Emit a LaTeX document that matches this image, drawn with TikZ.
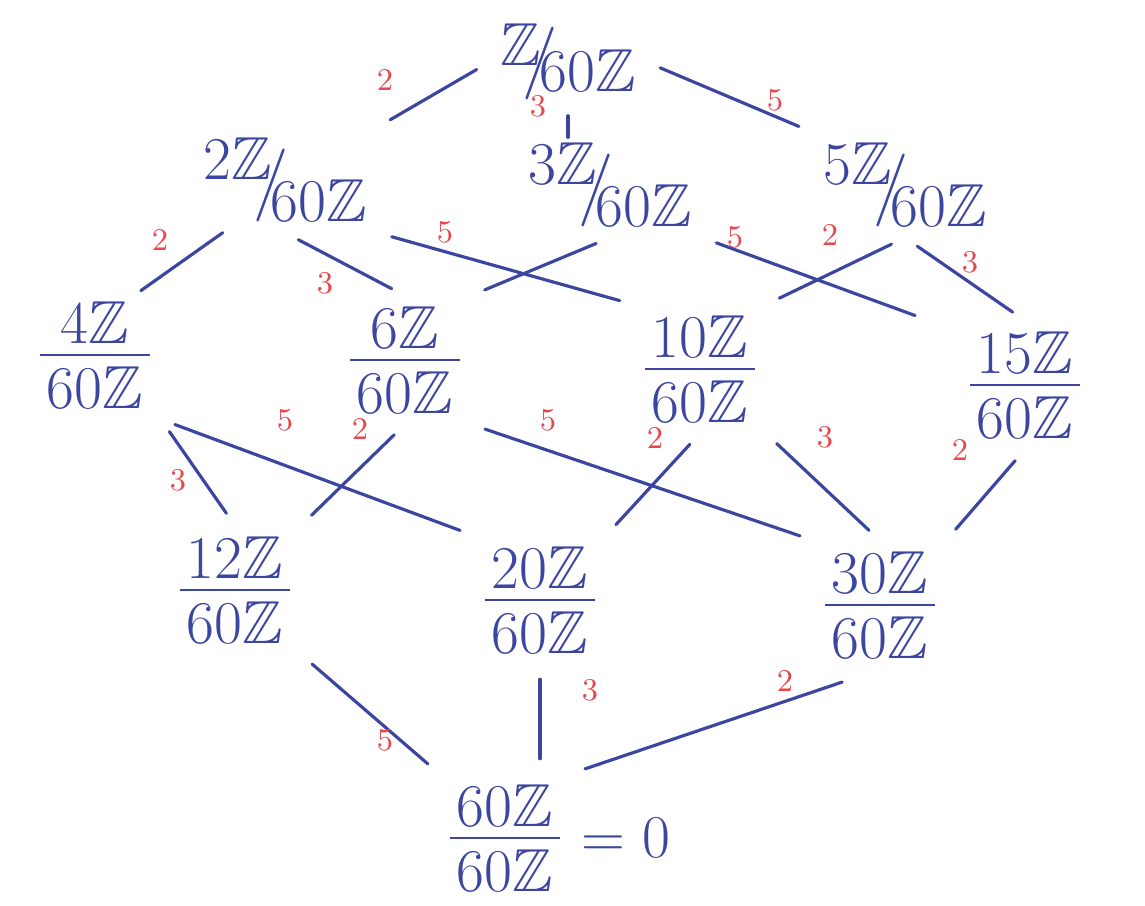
\documentclass[tikz,border=0pt]{standalone}
\usepackage{amsmath,amssymb}
\usepackage{xcolor}
\usepackage{tikz}
\usetikzlibrary{positioning}
\definecolor{ink}{HTML}{3C46A0}
\definecolor{redink}{HTML}{E5484D}
% Z-quotient written with a slash, and stacked over 60Z
\newcommand{\slashq}[2][.8ex]{\raisebox{#1}{$#2$}\kern-.3em$\big/$\kern-.3em\raisebox{-#1}{$60\mathbb{Z}$}}
\newcommand{\stk}[1]{$\vcenter{\offinterlineskip\halign{\hfil\kern2pt##\kern2pt\hfil\cr
  $#1$\cr\noalign{\kern3pt\hrule height .7pt\kern3pt}$60\mathbb{Z}$\cr}}$}

\begin{document}
\begin{tikzpicture}[
  grp/.style={text=ink,font=\LARGE,inner sep=1mm},
  edge/.style={draw=ink,line width=0.9pt,line cap=round,shorten <=1.5mm,shorten >=1.5mm},
  lab/.style={text=redink,font=\small,inner sep=0pt}
]
  \useasboundingbox (0,0) rectangle (11.45,9.06);

  % top
  \node[grp] (top) at (5.68,8.44) {\slashq[.5ex]{\mathbb{Z}}};

  % index 2,3,5
  \node[grp] (n2) at (2.85,7.26) {\slashq{2\mathbb{Z}}};
  \node[grp] (n3) at (6.10,7.21) {\slashq{3\mathbb{Z}}};
  \node[grp] (n5) at (9.05,7.21) {\slashq{5\mathbb{Z}}};

  % index 4,6,10,15
  \node[grp] (n4) at (0.95,5.51) {\stk{4\mathbb{Z}}};
  \node[grp] (n6) at (4.05,5.46) {\stk{6\mathbb{Z}}};
  \node[grp] (n10) at (7.00,5.37) {\stk{10\mathbb{Z}}};
  \node[grp] (n15) at (10.25,5.21) {\stk{15\mathbb{Z}}};

  % index 12,20,30
  \node[grp] (n12) at (2.35,3.16) {\stk{12\mathbb{Z}}};
  \node[grp] (n20) at (5.40,3.06) {\stk{20\mathbb{Z}}};
  \node[grp] (n30) at (8.80,3.01) {\stk{30\mathbb{Z}}};

  % bottom
  \node[grp] (n60) at (5.05,0.68) {\stk{60\mathbb{Z}}};
  \node[grp,right=0mm of n60] (zero) {$=0$};

  \draw[edge] (top.west) -- (n2.north east);
  \draw[edge,shorten <=0mm,shorten >=0mm] ([yshift=-.5mm]top.south)
    -- ([yshift=-.5mm]top.south |- n3.north);
  \draw[edge] (top.east) -- (n5.north west);
  \draw[edge,shorten <=0mm,shorten >=0mm] ([xshift=3mm]n2.south west) -- ([xshift=-2mm]n4.north east);
  \draw[edge] (n2.south) -- (n6.north);
  \draw[edge] (n2.south east) -- (n10.north west);
  \draw[edge] (n3.south) -- (n6.north east);
  \draw[edge] (n3.south east) -- ([xshift=-3mm]n15.north west);
  \draw[edge] (n5.south) -- (n10.north east);
  \draw[edge] (n5.south) -- (n15.north);
  \draw[edge] (n4.south east) -- (n12.north);
  \draw[edge] (n4.south east) -- (n20.north west);
  \draw[edge] (n6.south) -- (n12.north east);
  \draw[edge] (n6.south east) -- (n30.north west);
  \draw[edge] (n10.south) -- (n20.north east);
  \draw[edge] (n10.south east) -- (n30.north);
  \draw[edge] (n15.south) -- (n30.north east);
  \draw[edge] (n12.south east) -- (n60.north west);
  \draw[edge] (n20.south) -- (n20.south |- n60.north);
  \draw[edge,shorten <=4mm] (n30.south) -- (n60.north east);

  % indices
  \node[lab] (l-top-2) at (3.85,8.26) {2};
  \node[lab] (l-top-3) at (5.38,8.00) {3};
  \node[lab] (l-top-5) at (7.75,8.06) {5};
  \node[lab] (l-2-4) at (1.60,6.66) {2};
  \node[lab] (l-2-6) at (3.25,6.23) {3};
  \node[lab] (l-2-10) at (4.45,6.74) {5};
  \node[lab] (l-3-15) at (7.35,6.69) {5};
  \node[lab] (l-5-10) at (8.30,6.71) {2};
  \node[lab] (l-5-15) at (9.70,6.44) {3};
  \node[lab] (l-4-12) at (1.78,4.26) {3};
  \node[lab] (l-4-20) at (2.85,4.86) {5};
  \node[lab] (l-6-12) at (3.60,4.77) {2};
  \node[lab] (l-6-30) at (5.48,4.86) {5};
  \node[lab] (l-10-20) at (6.55,4.68) {2};
  \node[lab] (l-10-30) at (8.25,4.69) {3};
  \node[lab] (l-15-30) at (9.60,4.56) {2};
  \node[lab] (l-12-60) at (3.85,1.66) {5};
  \node[lab] (l-20-60) at (5.90,2.16) {3};
  \node[lab] (l-30-60) at (7.85,2.25) {2};
\end{tikzpicture}
\end{document}
